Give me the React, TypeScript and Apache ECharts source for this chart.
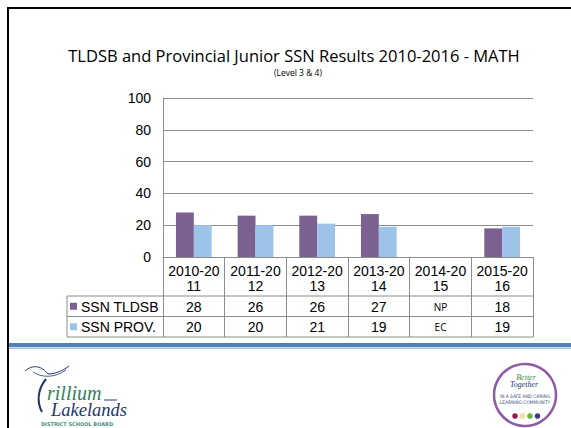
import React, { useEffect, useRef } from "react";
import * as echarts from "echarts";

// ---- Data ----
const categories = ["2010-2011", "2011-2012", "2012-2013", "2013-2014", "2014-2015", "2015-2016"];
const tldsbValues: (number | null)[] = [28, 26, 26, 27, null, 18];
const provValues: (number | null)[] = [20, 20, 21, 19, null, 19];
const tldsbMissing = "NP";
const provMissing = "EC";
const seriesNames = ["SSN TLDSB", "SSN PROV."];
const yMin = 0;
const yMax = 100;
const yInterval = 20;
const titleText = "TLDSB and Provincial Junior SSN Results 2010-2016 - MATH";
const subtitleText = "(Level 3 & 4)";

// ---- Layout / style ----
const W = 571;
const H = 428;
const GRID_L = 163;
const GRID_R = 533;
const GRID_T = 98;
const GRID_B = 257;
const ROW_HEAD_B = 296;
const ROW1_B = 316.5;
const ROW2_B = 337;
const TABLE_L = 67;
const PURPLE = "#7a6190";
const BLUE = "#9ec3e8";
const LINE = "#8c8c8c";
const NAVY = "#22386b";
const GREEN = "#2f7f5c";

export default function App() {
  const ref = useRef<HTMLDivElement>(null);

  useEffect(() => {
    if (!ref.current) return;
    const chart = echarts.init(ref.current, undefined, { renderer: "svg" });
    const n = categories.length;
    const colW = (GRID_R - GRID_L) / n;
    const row1C = (ROW_HEAD_B + ROW1_B) / 2;
    const row2C = (ROW1_B + ROW2_B) / 2;

    const hLine = (x1: number, x2: number, y: number, color = LINE, w = 1) => ({
      type: "line",
      silent: true,
      shape: { x1, y1: y, x2, y2: y },
      style: { stroke: color, lineWidth: w },
    });

    const txt = (
      x: number,
      y: number,
      text: string,
      font: string,
      fill = "#000",
      align = "center",
      lineHeight?: number
    ) => ({
      type: "text",
      silent: true,
      x,
      y,
      style: {
        text,
        fill,
        font,
        align,
        verticalAlign: "middle",
        ...(lineHeight ? { lineHeight } : {}),
      },
    });

    const tableTexts: any[] = [];
    const rows = [
      { vals: tldsbValues, missing: tldsbMissing, y: row1C },
      { vals: provValues, missing: provMissing, y: row2C },
    ];
    rows.forEach((r) => {
      r.vals.forEach((v, i) => {
        const isMissing = v === null || v === undefined;
        tableTexts.push(
          txt(
            GRID_L + colW * (i + 0.5),
            r.y + 0.5,
            isMissing ? r.missing : String(v),
            isMissing ? "10px 'Open Sans'" : "14px 'Liberation Sans'"
          )
        );
      });
    });

    const legendItems: any[] = [];
    [
      { name: seriesNames[0], color: PURPLE, y: row1C },
      { name: seriesNames[1], color: BLUE, y: row2C },
    ].forEach((it) => {
      legendItems.push({
        type: "rect",
        silent: true,
        shape: { x: 70, y: it.y - 3.5, width: 7, height: 7 },
        style: { fill: it.color },
      });
      legendItems.push(txt(81, it.y + 0.5, it.name, "14px 'Liberation Sans'", "#000", "left"));
    });

    const dotColors = ["#9c1b4f", "#eee39a", "#6db33f", "#3d3f7d"];
    const dots = dotColors.map((c, i) => ({
      type: "circle",
      silent: true,
      shape: { cx: 515 + i * 7.5, cy: 416, r: 2.8 },
      style: { fill: c },
    }));

    const option: any = {
      animation: false,
      backgroundColor: "#ffffff",
      grid: {
        left: GRID_L,
        right: W - GRID_R,
        top: GRID_T,
        bottom: H - GRID_B,
        containLabel: false,
      },
      xAxis: {
        type: "category",
        data: categories,
        boundaryGap: true,
        axisLine: { show: true, lineStyle: { color: LINE, width: 1 } },
        axisTick: {
          show: true,
          interval: 0,
          length: ROW2_B - GRID_B,
          lineStyle: { color: LINE, width: 1 },
        },
        axisLabel: {
          interval: 0,
          margin: 6,
          color: "#000",
          fontFamily: "Liberation Sans",
          fontSize: 14,
          lineHeight: 15,
          formatter: (s: string) => s.slice(0, 7) + "\n" + s.slice(7),
        },
      },
      yAxis: {
        type: "value",
        min: yMin,
        max: yMax,
        interval: yInterval,
        axisLine: { show: true, lineStyle: { color: LINE, width: 1 } },
        axisTick: { show: false },
        splitLine: { show: true, lineStyle: { color: LINE, width: 1 } },
        axisLabel: {
          margin: 12,
          color: "#000",
          fontFamily: "Liberation Sans",
          fontSize: 14,
        },
      },
      series: [
        {
          name: seriesNames[0],
          type: "bar",
          data: tldsbValues,
          itemStyle: { color: PURPLE },
          barGap: "0%",
          barCategoryGap: "42%",
        },
        {
          name: seriesNames[1],
          type: "bar",
          data: provValues,
          itemStyle: { color: BLUE },
          barGap: "0%",
          barCategoryGap: "42%",
        },
      ],
      graphic: [
        // page frame
        { type: "rect", silent: true, shape: { x: 7, y: 7, width: 2, height: H - 7 }, style: { fill: "#000" } },
        { type: "rect", silent: true, shape: { x: 7, y: 7, width: W - 7, height: 2 }, style: { fill: "#000" } },
        // title
        txt(294, 55.5, titleText, "16.5px 'Open Sans'", "#000", "center", 17),
        txt(298, 72, subtitleText, "8.5px 'Open Sans'", "#000", "center", 9),
        // table lines
        hLine(TABLE_L, GRID_R, ROW_HEAD_B),
        hLine(TABLE_L, GRID_R, ROW1_B),
        hLine(TABLE_L, GRID_R, ROW2_B),
        {
          type: "line",
          silent: true,
          shape: { x1: TABLE_L, y1: ROW_HEAD_B, x2: TABLE_L, y2: ROW2_B },
          style: { stroke: LINE, lineWidth: 1 },
        },
        ...legendItems,
        ...tableTexts,
        // blue band
        { type: "rect", silent: true, shape: { x: 9, y: 343, width: W - 9, height: 4 }, style: { fill: "#4f81bd" } },
        { type: "rect", silent: true, shape: { x: 9, y: 347.5, width: W - 9, height: 1.5 }, style: { fill: "#a5bedd" } },
        // left logo: Trillium Lakelands
        {
          type: "bezierCurve",
          silent: true,
          shape: { x1: 25, y1: 371, cpx1: 33, cpy1: 364, cpx2: 42, cpy2: 366, x2: 48, y2: 374 },
          style: { stroke: NAVY, lineWidth: 1, fill: "none" },
        },
        {
          type: "bezierCurve",
          silent: true,
          shape: { x1: 48, y1: 374, cpx1: 56, cpy1: 374, cpx2: 64, cpy2: 370, x2: 69, y2: 366 },
          style: { stroke: NAVY, lineWidth: 1, fill: "none" },
        },
        {
          type: "bezierCurve",
          silent: true,
          shape: { x1: 33, y1: 372, cpx1: 42, cpy1: 378, cpx2: 55, cpy2: 378, x2: 66, y2: 370 },
          style: { stroke: NAVY, lineWidth: 0.8, fill: "none" },
        },
        {
          type: "bezierCurve",
          silent: true,
          shape: { x1: 46, y1: 379, cpx1: 37, cpy1: 390, cpx2: 37, cpy2: 403, x2: 42, y2: 412 },
          style: { stroke: NAVY, lineWidth: 2, fill: "none" },
        },
        txt(47, 393, "rillium", "italic 20px 'Liberation Serif'", GREEN, "left", 14),
        hLine(104, 117, 400, NAVY, 1),
        txt(51, 410, "Lakelands", "italic 18.5px 'Liberation Serif'", NAVY, "left", 14),
        txt(77, 423.5, "DISTRICT SCHOOL BOARD", "bold 5px 'DejaVu Sans'", "#4a8f86", "center", 5),
        // right logo: Better Together
        {
          type: "circle",
          silent: true,
          shape: { cx: 525, cy: 395, r: 31 },
          style: { fill: "#fff", stroke: "#8e5ca6", lineWidth: 2.5 },
        },
        txt(526, 377, "Better", "italic 8px 'Liberation Serif'", "#3f8a4f", "center", 7),
        txt(524, 384.5, "Together", "italic 8px 'Liberation Serif'", NAVY, "center", 7),
        txt(525, 396, "IN A SAFE AND CARING", "4.8px 'DejaVu Sans Condensed'", "#3b4a7a", "center", 5),
        txt(525, 402, "LEARNING COMMUNITY", "4.8px 'DejaVu Sans Condensed'", "#3b4a7a", "center", 5),
        ...dots,
      ],
    };

    chart.setOption(option);
    return () => {
      chart.dispose();
    };
  }, []);

  return (
    <div
      ref={ref}
      style={{ position: "fixed", left: 0, top: 0, width: W, height: H, background: "#fff" }}
    />
  );
}
